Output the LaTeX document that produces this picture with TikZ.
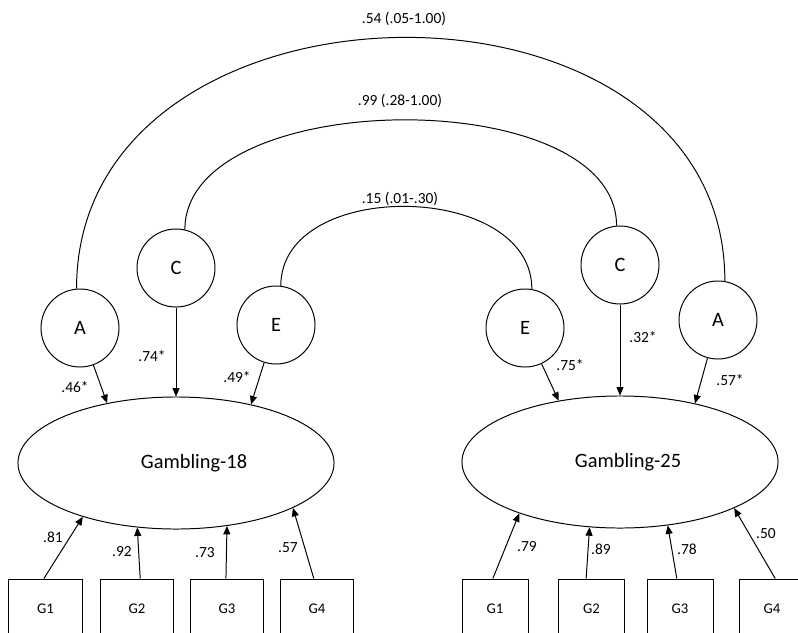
\documentclass[tikz,border=0pt]{standalone}
\usepackage{fontspec}
\setmainfont{Carlito}
\usetikzlibrary{arrows.meta,shapes.geometric}

\begin{document}
\begin{tikzpicture}[
    x=0.025cm, y=-0.025cm,
    line width=0.7pt,
    lat/.style={draw, circle, minimum size=1.95cm, inner sep=0pt,
                font=\fontsize{14.5}{17}\selectfont},
    factor/.style={draw, ellipse, minimum width=7.9cm, minimum height=3.3cm, inner sep=0pt},
    obs/.style={draw, rectangle, minimum width=#1, minimum height=1.5cm, inner sep=0pt,
                font=\fontsize{10.5}{12}\selectfont},
    arr/.style={-{Triangle[length=6pt,width=5pt]}},
    coef/.style={font=\fontsize{11}{13}\selectfont}
]
    % Frame
    \path[use as bounding box] (0,0) rectangle (798,633);
    \clip (0,0) rectangle (798,633);

    % Latent gambling factors
    \node[factor, label={[xshift=0.45cm, font=\fontsize{14.5}{17}\selectfont]center:Gambling-18}] (g18) at (176,463) {};
    \node[factor, label={[xshift=0.2cm, font=\fontsize{14.5}{17}\selectfont]center:Gambling-25}] (g25) at (620,462) {};

    % ACE components
    \node[lat] (a18) at (80,328) {A};
    \node[lat] (c18) at (176,268) {C};
    \node[lat] (e18) at (276,325) {E};
    \node[lat] (e25) at (525,328) {E};
    \node[lat] (c25) at (620,265) {C};
    \node[lat] (a25) at (718,320) {A};

    % Indicators
    \foreach \i/\x in {1/45.5, 2/137, 3/227, 4/317}
        \node[obs=1.825cm] (l\i) at (\x,609) {G\i};
    \foreach \i/\x in {1/495, 2/591.5, 3/680, 4/772}
        \node[obs=1.65cm] (r\i) at (\x,609) {G\i};

    % Paths to the factors
    \draw[arr] (a18) -- (g18.139);
    \draw[arr] (c18) -- (g18.north);
    \draw[arr] (e18) -- (g18.38);
    \draw[arr] (e25) -- (g25.135);
    \draw[arr] (c25) -- (g25.north);
    \draw[arr] (a25) -- (g25.38);

    \foreach \i/\s/\t in {1/93/210, 2/84/239, 3/92/309, 4/96/339}
        \draw[arr] (l\i.\s) -- (g18.\t);
    \foreach \i/\s/\t in {1/94/207, 2/100/245, 3/96/307, 4/84/338}
        \draw[arr] (r\i.\s) -- (g25.\t);

    % Correlations between twins
    \draw (a18.95) to[out=90, in=90, looseness=1.3] (a25.80);
    \draw (c18.77) to[out=90, in=90, looseness=0.85] (c25.95);
    \draw (e18.83) to[out=90, in=90, looseness=1.1] (e25.80);

    \node[coef] (ra) at (404,19) {.54 (.05-1.00)};
    \node[coef] (rc) at (400,101) {.99 (.28-1.00)};
    \node[coef] (re) at (400,199) {.15 (.01-.30)};

    % Coefficients
    \foreach \n/\x/\y/\t in {pa18/75/387/.46*, pc18/152/356/.74*, pe18/237/377/.49*,
                            pe25/570/365/.75*, pc25/643/337/.32*, pa25/730/380/.57*}
        \node[coef] (\n) at (\x,\y) {\t};
    \foreach \n/\x/\y/\t in {l1c/53/537/.81, l2c/122/552/.92, l3c/205/553/.73, l4c/288/548/.57,
                            r1c/527/547/.79, r2c/601/549/.89, r3c/687/549/.78, r4c/766/534/.50}
        \node[coef] (\n) at (\x,\y) {\t};
\end{tikzpicture}
\end{document}
